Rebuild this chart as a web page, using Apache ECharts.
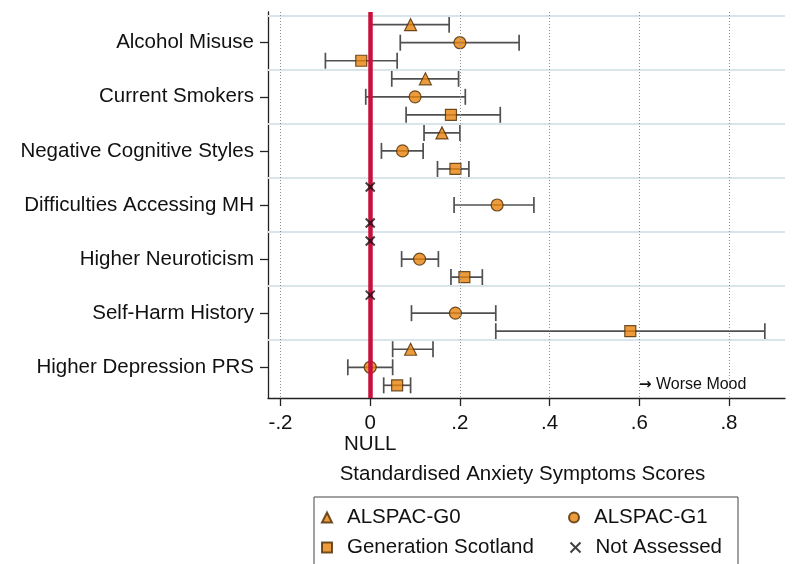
<!DOCTYPE html>
<html>
<head>
<meta charset="utf-8">
<script src="https://cdn.jsdelivr.net/npm/echarts@6/dist/echarts.min.js"></script>
<style>
  html, body { margin: 0; padding: 0; background: #fff; }
  #chart { width: 796px; height: 564px; }
</style>
</head>
<body>
<div id="chart"></div>
<script>
// Exposure categories, top to bottom
const categories = [
  'Alcohol Misuse',
  'Current Smokers',
  'Negative Cognitive Styles',
  'Difficulties Accessing MH',
  'Higher Neuroticism',
  'Self-Harm History',
  'Higher Depression PRS'
];

// ALSPAC-G0 estimates and 95% CIs (null = not assessed)
const g0Est = [0.09, 0.123, 0.16, null, null, null, 0.09];
const g0Lo  = [0.0, 0.048, 0.12, null, null, null, 0.05];
const g0Hi  = [0.176, 0.197, 0.20, null, null, null, 0.14];

// ALSPAC-G1
const g1Est = [0.20, 0.10, 0.072, 0.283, 0.11, 0.19, 0.0];
const g1Lo  = [0.067, -0.01, 0.025, 0.187, 0.07, 0.092, -0.05];
const g1Hi  = [0.332, 0.212, 0.118, 0.365, 0.152, 0.28, 0.05];

// Generation Scotland
const gsEst = [-0.02, 0.18, 0.19, null, 0.21, 0.58, 0.06];
const gsLo  = [-0.10, 0.08, 0.15, null, 0.18, 0.28, 0.03];
const gsHi  = [0.06, 0.29, 0.22, null, 0.25, 0.88, 0.09];

// x-axis tick values and y positions of the three cohorts within a category row
const xTicks = [-0.2, 0, 0.2, 0.4, 0.6, 0.8];
const cohortOffset = { g0: -1 / 3, g1: 0, gs: 1 / 3 };

const FONT = '"Liberation Sans", Arial, sans-serif';
const FS = 20.5;
const ORANGE = '#e8830c';
const BROWN = '#4d2b00';

function intervals(lo, hi, off) {
  const out = [];
  lo.forEach((l, i) => {
    if (l !== null) out.push([l, hi[i], i + off]);
  });
  return out;
}
function points(est, off) {
  const out = [];
  est.forEach((v, i) => {
    if (v !== null) out.push([v, i + off]);
  });
  return out;
}
// Cohorts with no estimate for a category are marked at zero
const notAssessed = [];
[[g0Est, cohortOffset.g0], [g1Est, cohortOffset.g1], [gsEst, cohortOffset.gs]].forEach(([est, off]) => {
  est.forEach((v, i) => { if (v === null) notAssessed.push([0, i + off]); });
});

function renderErrorBar(params, api) {
  const y = api.value(2);
  const a = api.coord([api.value(0), y]);
  const b = api.coord([api.value(1), y]);
  const cap = 8;
  const style = { stroke: '#505050', lineWidth: 1.7 };
  return {
    type: 'group',
    children: [
      { type: 'line', shape: { x1: a[0], y1: a[1], x2: b[0], y2: b[1] }, style },
      { type: 'line', shape: { x1: a[0], y1: a[1] - cap, x2: a[0], y2: a[1] + cap }, style },
      { type: 'line', shape: { x1: b[0], y1: b[1] - cap, x2: b[0], y2: b[1] + cap }, style }
    ]
  };
}

const markerStyle = { color: ORANGE, borderColor: BROWN, borderWidth: 1.2 };

// one legend block per entry, laid out as a 2 x 2 key
function legendEntry(name, left, top) {
  return {
    data: [name],
    left: left,
    top: top,
    itemWidth: 10,
    itemHeight: 10,
    selectedMode: false,
    padding: 0,
    textStyle: { fontSize: FS, color: '#111', fontFamily: FONT, padding: [0, 0, 0, 10] }
  };
}

const chart = echarts.init(document.getElementById('chart'), null, { renderer: 'canvas' });

chart.setOption({
  animation: false,
  textStyle: { fontFamily: FONT },
  grid: { left: 268, right: 11, top: 12, bottom: 166 },
  xAxis: {
    type: 'value',
    min: -0.228,
    max: 0.925,
    name: 'Standardised Anxiety Symptoms Scores',
    nameLocation: 'middle',
    nameGap: 66,
    nameTextStyle: { fontSize: FS, color: '#111', fontFamily: FONT, padding: [0, 8, 0, 0] },
    axisLine: { show: true, onZero: false, lineStyle: { color: '#222', width: 1.3 } },
    axisTick: { show: true, length: 8, customValues: xTicks, lineStyle: { color: '#222', width: 1.3 } },
    axisLabel: {
      customValues: xTicks,
      margin: 15,
      fontSize: FS,
      lineHeight: 21,
      color: '#111',
      fontFamily: FONT,
      formatter: v => {
        if (Math.abs(v) < 1e-9) return '0\nNULL';
        return v.toFixed(1).replace('0.', '.');
      }
    },
    splitLine: { show: false }
  },
  yAxis: {
    type: 'value',
    inverse: true,
    min: -0.568,
    max: 6.568,
    axisLine: { show: true, onZero: false, lineStyle: { color: '#222', width: 1.3 } },
    axisTick: { show: true, length: 8, customValues: categories.map((c, i) => i), lineStyle: { color: '#222', width: 1.3 } },
    axisLabel: {
      customValues: categories.map((c, i) => i),
      margin: 14,
      fontSize: FS,
      color: '#111',
      fontFamily: FONT,
      padding: [4, 0, 0, 0],
      formatter: v => categories[Math.round(v)]
    },
    splitLine: { show: false }
  },
  legend: [
    legendEntry('ALSPAC-G0', 321, 507),
    legendEntry('Generation Scotland', 321, 537),
    legendEntry('ALSPAC-G1', 568, 507),
    legendEntry('Not Assessed', 568, 537)
  ],
  graphic: [
    {
      type: 'rect',
      shape: { x: 314, y: 497, width: 424, height: 90 },
      style: { fill: 'none', stroke: '#444', lineWidth: 1 },
      silent: true
    },
    {
      type: 'text',
      x: 639,
      y: 385,
      style: {
        text: '{a|\u2192}{b| Worse Mood}',
        verticalAlign: 'middle',
        rich: {
          a: { fontSize: 15, fontWeight: 'bold', fill: '#111', fontFamily: '"DejaVu Sans", sans-serif' },
          b: { fontSize: 16, fill: '#111', fontFamily: FONT }
        }
      },
      z: 10
    }
  ],
  series: [
    {
      // background reference lines: category separators and dotted x grid
      type: 'line',
      data: [],
      z: 1,
      silent: true,
      markLine: {
        silent: true,
        symbol: ['none', 'none'],
        label: { show: false },
        data: [
          ...categories.map((c, i) => ({ yAxis: i - 0.5, lineStyle: { color: '#dae4eb', width: 2, type: 'solid' } })),
          ...xTicks.filter(v => v !== 0).map(v => ({ xAxis: v, lineStyle: { color: '#8c8c8c', width: 1, type: [1, 2] } }))
        ]
      }
    },
    {
      // null effect line at zero
      type: 'line',
      data: [],
      z: 2,
      silent: true,
      markLine: {
        silent: true,
        symbol: ['none', 'none'],
        label: { show: false },
        data: [{ xAxis: 0 }],
        lineStyle: { color: '#c8103c', width: 4.5, type: 'solid' }
      }
    },
    { type: 'custom', name: 'ci-g0', z: 3, renderItem: renderErrorBar, encode: { x: [0, 1], y: 2 }, data: intervals(g0Lo, g0Hi, cohortOffset.g0) },
    { type: 'custom', name: 'ci-g1', z: 3, renderItem: renderErrorBar, encode: { x: [0, 1], y: 2 }, data: intervals(g1Lo, g1Hi, cohortOffset.g1) },
    { type: 'custom', name: 'ci-gs', z: 3, renderItem: renderErrorBar, encode: { x: [0, 1], y: 2 }, data: intervals(gsLo, gsHi, cohortOffset.gs) },
    { type: 'scatter', name: 'ALSPAC-G0', z: 4, symbol: 'triangle', symbolSize: 12, itemStyle: markerStyle, data: points(g0Est, cohortOffset.g0) },
    { type: 'scatter', name: 'ALSPAC-G1', z: 4, symbol: 'circle', symbolSize: 12, itemStyle: markerStyle, data: points(g1Est, cohortOffset.g1) },
    { type: 'scatter', name: 'Generation Scotland', z: 4, symbol: 'rect', symbolSize: 11, itemStyle: markerStyle, data: points(gsEst, cohortOffset.gs) },
    {
      type: 'scatter',
      name: 'Not Assessed',
      z: 5,
      symbol: 'path://M0,0L10,10M0,10L10,0',
      symbolSize: 9,
      itemStyle: { color: 'none', borderColor: '#111', borderWidth: 2 },
      data: notAssessed
    }
  ]
});
</script>
</body>
</html>
